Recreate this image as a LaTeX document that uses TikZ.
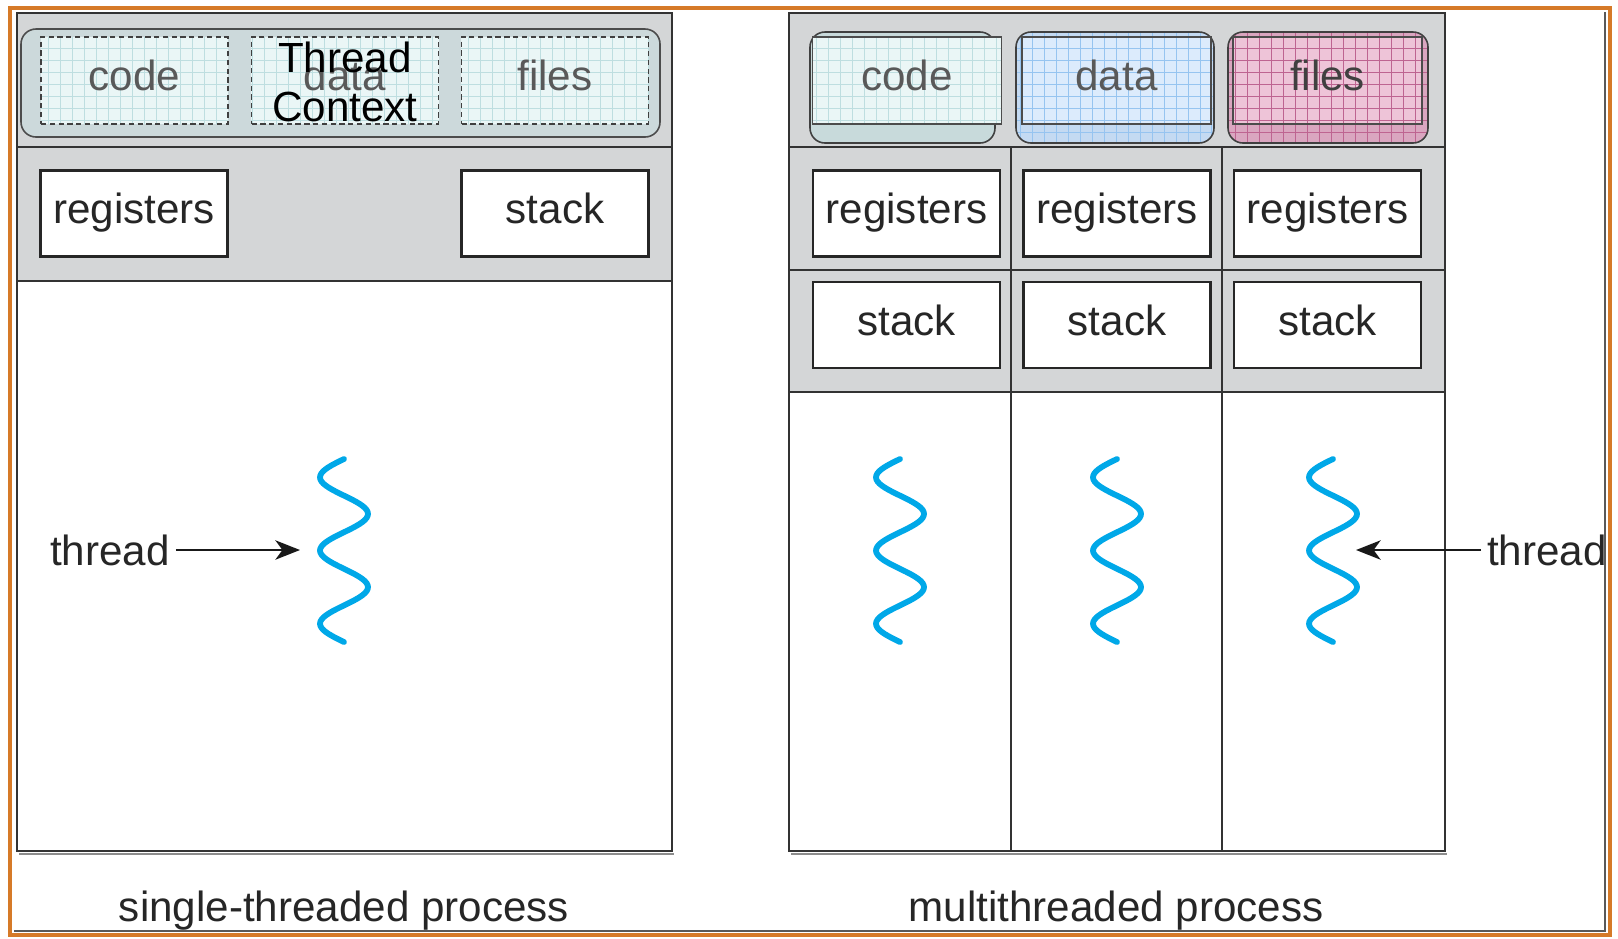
\documentclass[tikz,border=0pt]{standalone}
\usepackage{fontspec}
\setmainfont{Liberation Sans}
\usetikzlibrary{arrows.meta}

\definecolor{panelgrau}{RGB}{212,214,215}
\definecolor{ctxfill}{RGB}{204,217,219}
\definecolor{codefill}{RGB}{234,246,246}
\definecolor{codegitter}{RGB}{190,222,224}
\definecolor{codebasis}{RGB}{200,218,219}
\definecolor{datafill}{RGB}{220,235,252}
\definecolor{datagitter}{RGB}{150,196,240}
\definecolor{databasis}{RGB}{196,218,242}
\definecolor{filesfill}{RGB}{238,196,216}
\definecolor{filesgitter}{RGB}{190,100,145}
\definecolor{filesbasis}{RGB}{218,166,192}
\definecolor{wellenblau}{RGB}{0,168,232}
\definecolor{randorange}{RGB}{214,122,40}

\tikzset{
	rahmen/.style={draw=black!80,line width=1.1pt},
	kasten/.style={draw=black!85,line width=1.2pt,fill=white,
		minimum width=3.74cm,minimum height=1.72cm,inner sep=0pt,
		text depth=6pt,font=\fontsize{24}{28}\selectfont,text=black!85},
	geteilt/.style={draw=black!75,densely dashed,line width=0.9pt,
		minimum width=3.74cm,minimum height=1.74cm,inner sep=0pt,
		text depth=6pt,font=\fontsize{24}{28}\selectfont,text=black!65},
	innen/.style={draw=black!70,line width=0.9pt,
		minimum width=3.78cm,minimum height=1.74cm,inner sep=0pt,
		text depth=6pt,font=\fontsize{24}{28}\selectfont},
	faden/.style={draw=wellenblau,line width=3.3pt,line cap=round},
	beschrift/.style={font=\fontsize{24}{28}\selectfont,text=black!85},
	pfeil/.style={->,draw=black!90,line width=1.4pt}
}

% #1 clip options, #2 lower left, #3 upper right, #4 fill, #5 grid colour
\newcommand{\raster}[5]{%
	\begin{scope}
	\clip[#1] #2 rectangle #3;
	\fill[#4] #2 rectangle #3;
	\draw[#5,line width=0.35pt] #2 grid[step=0.24cm] #3;
	\end{scope}}

\begin{document}
\begin{tikzpicture}[x=0.02cm,y=-0.02cm,
	>={Stealth[length=14pt,width=11pt,inset=4pt]}]

\useasboundingbox (0,0) rectangle (1618,938);

% outer frame
\draw[randorange,line width=2.4pt] (10,8) rectangle (1610,935);
\draw[black!65,line width=0.6pt] (1605,12) -- (1605,931) -- (14,931);

% single-threaded process
\fill[panelgrau] (17,13) rectangle (672,281);
\draw[black!45,line width=1pt] (19,854) -- (674,854);
\draw[rahmen] (17,13) rectangle (672,851);
\draw[rahmen] (17,147) -- (672,147);
\draw[rahmen] (17,281) -- (672,281);

\draw[draw=black!70,fill=ctxfill,line width=0.9pt,rounded corners=0.3cm]
	(21,29) rectangle (660,137);

\raster{}{(41,124)}{(228,37)}{codefill}{codegitter}
\raster{}{(251,124)}{(439,37)}{codefill}{codegitter}
\raster{}{(461,124)}{(649,37)}{codefill}{codegitter}

\node[geteilt] (code1) at (134.5,80.5) {code};
\node[geteilt] (data1) at (345,80.5) {data};
\node[geteilt] (files1) at (555,80.5) {files};
\node[beschrift,text=black,align=center] (ctx) at (345,82)
	{Thread\\Context};

\node[kasten] (reg1) at (134,213.5) {registers};
\node[kasten] (stk1) at (555,213.5) {stack};

% multithreaded process
\fill[panelgrau] (789,13) rectangle (1445,392);
\draw[black!45,line width=1pt] (791,854) -- (1447,854);
\draw[rahmen] (789,13) rectangle (1445,851);
\draw[rahmen] (789,147) -- (1445,147);
\draw[rahmen] (789,270) -- (1445,270);
\draw[rahmen] (789,392) -- (1445,392);
\draw[rahmen] (1011,147) -- (1011,851);
\draw[rahmen] (1222,147) -- (1222,851);

\raster{rounded corners=0.3cm}{(810,143)}{(995,32)}{codebasis}{codebasis}
\raster{rounded corners=0.3cm}{(1016,143)}{(1214,32)}{databasis}{datagitter}
\raster{rounded corners=0.3cm}{(1228,143)}{(1428,32)}{filesbasis}{filesgitter}
\draw[black!75,line width=0.9pt,rounded corners=0.3cm] (810,32) rectangle (995,143);
\draw[black!75,line width=0.9pt,rounded corners=0.3cm] (1016,32) rectangle (1214,143);
\draw[black!75,line width=0.9pt,rounded corners=0.3cm] (1228,32) rectangle (1428,143);

\raster{}{(812,124)}{(1002,37)}{codefill}{codegitter}
\raster{}{(1022,124)}{(1211,37)}{datafill}{datagitter}
\raster{}{(1233,124)}{(1422,37)}{filesfill}{filesgitter}

\node[innen,text=black!65] (code2) at (907,80.5) {code};
\node[innen,text=black!65] (data2) at (1116.5,80.5) {data};
\node[innen,text=black!75] (files2) at (1327.5,80.5) {files};

\node[kasten] (reg2) at (906.5,213.5) {registers};
\node[kasten] (reg3) at (1117,213.5) {registers};
\node[kasten] (reg4) at (1327.5,213.5) {registers};
\node[kasten] (stk2) at (906.5,325) {stack};
\node[kasten] (stk3) at (1117,325) {stack};
\node[kasten] (stk4) at (1327.5,325) {stack};

% threads
\foreach \mx in {344,900,1117,1333}
	\draw[faden] plot[domain=0:900,samples=91,smooth]
		({\mx-24*sin(\x)},{459+\x/180*36.6});

\coordinate (w1tip) at (300,550);
\coordinate (w4tip) at (1356,550);

\node[beschrift] (lthread) at (110,550) {thread};
\node[beschrift] (rthread) at (1547,550) {thread};
\draw[pfeil] (lthread) -- (w1tip);
\draw[pfeil] (rthread) -- (w4tip);

\node[beschrift,anchor=base] (cap1) at (344,921) {single-threaded process};
\node[beschrift,anchor=base] (cap2) at (1116,921) {multithreaded process};

\end{tikzpicture}
\end{document}
